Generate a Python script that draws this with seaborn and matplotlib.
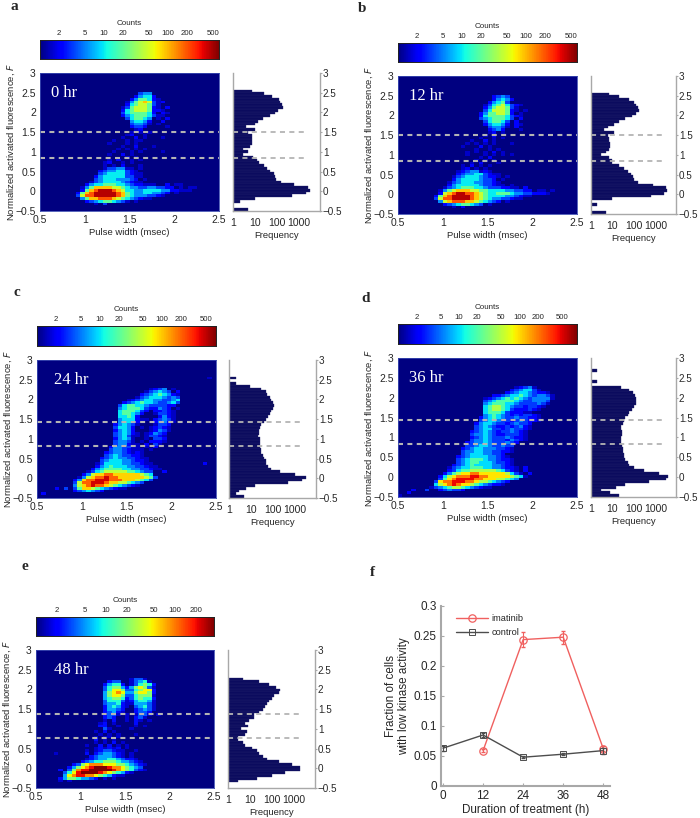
import numpy as np
import pandas as pd
import seaborn as sns
import matplotlib
matplotlib.use('Agg')
import matplotlib.pyplot as plt
from matplotlib.colors import LogNorm

sns.set_style('white')
plt.rcParams['font.family'] = ['Liberation Sans', 'DejaVu Sans']

W, H = 700, 818
N_COLS, N_ROWS = 40, 50
X_STEP, Y_STEP = 0.05, 0.07

# count read for each digit in the rows below ('.' = empty cell)
LEVELS = {'.': 1, '1': 1.5, '2': 2.2, '3': 3.4, '4': 5.5, '5': 10, '6': 20, '7': 45, '8': 90, '9': 200, 'a': 450}

# === Heat map cells, top row first, last string is row 0 (F = -0.5) ===
ROWS_A = [
    "......................344", ".....................24552", "....................2466521",
    "...................146787312", "...................25677631", "..................136777621.2",
    "..................2567776221", "..................35666652.21", "..................2456665311",
    "...................356654.1.2", "....................45542..2", "....................34431.1",
    "....................2332....1", ".....................12", "....................1.1.1",
    "...................12..1", "..................1..2.1...1", "................1..1.11",
    "...............1...1.1", "..................1..2...1", ".................1.1.1.1",
    "................1...1.1....1", "...............1..2.1", "...................1.1",
    "...............1.2..1.1", "..............12..1.1", "..............1.1.2...1",
    "..............1334411.1", ".............234455321", ".............3455553211",
    "............24555553311", "............3455544432.1", "...........134555543211",
    "..........2455666554322111..2.11", ".........146888877654433443322.1.11",
    ".........2689aaa987554455554422111", "........2689aaaaa986544554432.1",
    "........3799aaaaa98654443321", ".........4688999876543211", "..........2345665431.1",
    "............1.3", "", "",
]
ROWS_B = [
    ".....................2343", ".....................24542", "....................24563",
    "...................135675321", "...................24677631", "...................35777621.1",
    "..................24667762.1", "..................2566665321", "..................34566653.2",
    "...................356653.2", "...................245542.21", "....................34431.2",
    "....................2342...1", "....................12.1", "...................1.2",
    "..................1..1.1", "................1..2.1", "...............1.1.1.1...1",
    "..............1...2.1", ".................1..1.1", "...............1.1.1.2.1",
    "...............1...1.1.1.1", "..................1.2", ".................1.1.1",
    "................1.2...1", "..............1.2.1.1", "..............12.1.1",
    ".............12344121", ".............2344553211", "............13455543221.1",
    "............2455554332.1", "...........134555443321", "...........2455555433211.1",
    "..........13456665543332211.2", ".........146788877665555443322.11.1",
    ".........2789aa9987655666544332221", "........2689aaaa98765555443211",
    "........3799aaaa987654433211", ".........47899988765432.1", "..........234566543.1",
    "............1.2", "", "",
]
ROWS_C = [
    "......................................1", "", "", "",
    ".........................1234.1", "........................134543.2", ".......................234565421",
    "......................1345554343", "....................123455443345", "...................2345655433453",
    "..................3566554333322", "..................456665322432.1", "..................5666532.22321",
    "..................566542..13321", "..................55652....2421", "..................4555211.23431",
    "..................45532...24421", ".................245431...1332", ".................35542.1.12321",
    ".................24542...12431", ".................345421.12432", ".................345311.13321",
    ".................24541..1.332", ".................34431.1.2221", ".................344211.2.31",
    "................2443311.1.2", "................34432111.1", "...............234432121",
    "...............345433221", "..............23454433211", "..............34555443221",
    ".............1355554433211...........2", ".............24565554433211",
    "............2456666554433211", "...........135677777665433..2", "..........2478899888888765",
    ".........147899a99888888763", "........24899aaa9998887653", "........3799aaa988776543",
    "........4789a9987654321", "....2.3.368876543211", "........2345432", ".2", "",
]
ROWS_D = [
    "", "", "", "", "",
    "..........................12341", ".........................2345531", "........................2345543221",
    ".....................22345565434431", "...................1234565654344441", "...................345666654334443",
    "...................456665543333431", "...................56776543323321", "...................5677653222321",
    "...................56665322211", "...................4565432323321", "..................24565433433221",
    "..................34554332343221", ".................2455433234332", ".................3454322323421",
    ".................3455332343321", "................2345432334321", "................3445432233321",
    "................2345433343221", "................3445433324321", "...............234454333432",
    "...............33455433433", "..............234554443321", "..............344554433221",
    "..............3455544332", ".............234555544321", ".............3456665443221",
    ".............3456655543321", "............23456555544321", "...........1345566655443221.2",
    "...........2356677777765321.2", "..........246788998888887531.2", ".........2578999aa99888887651",
    ".........3689aaaa9988877654", "........3899aaa9987765432", "........5789a98876543221",
    ".......13456776543211", "...2..3..234332", "..2", "1",
]
ROWS_E = [
    ".....................1331", "................233..13451", "...............24552.135652",
    "...............356642467631", "...............357763356772", "...............467874467762",
    "...............467763356661", "...............456652356552", "...............355531245541",
    "...............344521144431", "...............245421.34531", "...............24432..23431",
    "...............23421..2332", "...............2331.1.1331.1", "...............232..1.231",
    "...............1.2..1.21.1", "..............12.1....2", "..............22..1...1.1",
    "...............31....1", ".............1.2.1", "..............1.1.1...1",
    ".............1.11.1", ".............2.1.1", ".............1.1.2.1",
    "...........1..2.2.1.1", ".............121212.1", "...........1.1233211..1",
    "....1......2.2344321.1", "............23444321.1", "...........123445543221",
    "..........23455666544321", "........23678887776654321", ".......246789aaa98876543",
    ".....2.36899aaaaa98765321", "......3579aaaa98765421", "......47899887654211",
    ".....246654432.1.1", ".....1.1", "", "",
]

# === Frequency histograms, row 0 upwards ===
FREQ_A = [5, 1, 1, 2, 10, 500, 2000, 3000, 2500, 600, 150, 90, 80, 70, 50, 35, 25, 15, 12, 8, 3, 5, 3, 6, 7, 7, 7, 7,
          5, 10, 4, 10, 14, 22, 50, 80, 110, 180, 170, 130, 120, 60, 25, 7]
FREQ_B = [5, 1, 1, 2, 1, 10, 600, 2500, 3500, 3000, 800, 150, 100, 90, 70, 50, 35, 20, 10, 10, 7, 3, 5, 7, 8, 8, 7, 7,
          6, 12, 4, 6, 12, 20, 40, 80, 130, 170, 150, 130, 100, 60, 20, 7]
FREQ_C = [5, 2, 3, 6, 15, 500, 2000, 3000, 1000, 200, 80, 60, 50, 50, 40, 35, 30, 30, 25, 25, 25, 25, 20, 22, 22, 25,
          30, 40, 50, 60, 70, 80, 100, 110, 100, 80, 70, 55, 50, 30, 9, 2, 1, 2]
FREQ_D = [20, 8, 3, 15, 40, 500, 3000, 4000, 1500, 300, 100, 60, 50, 40, 35, 35, 30, 30, 28, 25, 25, 25, 28, 28, 25, 25,
          30, 35, 40, 50, 60, 80, 100, 120, 130, 130, 110, 90, 60, 25, 1, 2, 1, 1, 1, 2]
FREQ_E = [1, 1, 3, 20, 100, 400, 1800, 1800, 800, 200, 60, 40, 25, 20, 12, 6, 5, 3, 3, 6, 7, 4, 8, 6, 9, 15, 15, 25,
          40, 50, 60, 70, 100, 120, 200, 220, 150, 70, 25, 5]

PULSE_TICKS = [0.5, 1, 1.5, 2, 2.5]
F_TICKS = [-0.5, 0, 0.5, 1, 1.5, 2, 2.5, 3]
FREQ_TICKS = [1, 10, 100, 1000]
COUNT_TICKS = [2, 5, 10, 20, 50, 100, 200, 500]
COUNT_TICKS_E = [2, 5, 10, 20, 50, 100, 200]

# === Panel f ===
HOURS = [0, 12, 24, 36, 48]
IMATINIB_HOURS = [12, 24, 36, 48]
IMATINIB = [0.059, 0.244, 0.248, 0.062]
IMATINIB_ERR = [0.002, 0.012, 0.011, 0.004]
CONTROL = [0.063, 0.085, 0.048, 0.053, 0.059]
CONTROL_ERR = [0.004, 0.003, 0.002, 0.002, 0.005]

GREY = '#a8a8a8'
DASH = '#b4b4b4'
NAVY = '#0b0b5e'


def add_axes(x0, x1, y0, y1):
    # pixel box, y measured from the top of the picture
    return fig.add_axes([x0 / W, 1 - y1 / H, (x1 - x0) / W, (y1 - y0) / H])


def rows_to_counts(rows):
    grid = np.ones((N_ROWS, N_COLS))
    for i, row in enumerate(rows):
        r = len(rows) - 1 - i
        for c, ch in enumerate(row[:N_COLS]):
            grid[r, c] = LEVELS[ch]
    return grid


def draw_panel(p):
    x0, x1, y0, y1 = p['heat']
    ax = add_axes(x0, x1, y0, y1)
    cax = add_axes(x0, x1, p['cbar'][0], p['cbar'][1])
    norm = LogNorm(1, p['vmax'])
    sns.heatmap(pd.DataFrame(rows_to_counts(p['rows'])), ax=ax, cmap='jet', norm=norm, cbar_ax=cax,
                cbar_kws=dict(orientation='horizontal', ticks=p['cticks']), xticklabels=False, yticklabels=False)
    ax.set_ylim(0, N_ROWS)
    ax.set_xlim(0, N_COLS)
    ax.set_xticks([(v - 0.5) / X_STEP for v in PULSE_TICKS], labels=[f'{v:g}' for v in PULSE_TICKS])
    ax.set_yticks([(v + 0.5) / Y_STEP for v in F_TICKS], labels=[f'{v:g}'.replace('-', '\u2212') for v in F_TICKS])
    ax.tick_params(labelsize=7.5, length=0, pad=3, labelrotation=0)
    ax.set_xlabel('Pulse width (msec)', fontsize=6.8, labelpad=2)
    ax.set_ylabel('Normalized activated fluorescence, $\\mathit{F}$', fontsize=6.8, labelpad=-1)
    for s in ax.spines.values():
        s.set_visible(True)
        s.set_color('#3b4bb0')
        s.set_linewidth(0.6)
    for v in p['dash']:
        ax.axhline((v + 0.5) / Y_STEP, color=DASH, lw=1.5, dashes=(2.4, 2.1))
    ax.text(p['hr_x'], (2.49 + 0.5) / Y_STEP, p['hr'], color='white', fontsize=12, va='center',
            family='Liberation Serif')

    # colour bar
    cax.xaxis.set_ticks_position('top')
    cax.xaxis.set_label_position('top')
    cax.minorticks_off()
    cax.set_xticks(p['cticks'], labels=[str(t) for t in p['cticks']])
    cax.tick_params(labelsize=5.6, length=0, pad=2.5)
    cax.set_xlabel('Counts', fontsize=5.8, labelpad=3.5)
    for s in cax.spines.values():
        s.set_visible(True)
        s.set_color('#222222')
        s.set_linewidth(0.6)

    # frequency histogram
    hx = add_axes(p['hist'][0], p['hist'][1], y0, y1)
    freq = pd.DataFrame({'y': [-0.5 + Y_STEP * (i + 0.5) for i in range(len(p['freq']))], 'n': p['freq']})
    sns.barplot(data=freq, x='n', y='y', orient='y', native_scale=True, color=NAVY,
                width=1.0, saturation=1, edgecolor='#26266e', linewidth=0.25, ax=hx)
    hx.set_xscale('log')
    hx.set_xlim(1, 9000)
    hx.set_ylim(-0.5, 3)
    hx.set_xticks(FREQ_TICKS, labels=[f'{t}' for t in FREQ_TICKS])
    hx.minorticks_off()
    hx.yaxis.tick_right()
    hx.set_yticks(F_TICKS, labels=[f'{v:g}'.replace('-', '\u2212') for v in F_TICKS])
    hx.tick_params(labelsize=7.5, pad=1, length=2, color=GREY, left=False, right=True, bottom=False)
    hx.tick_params(axis='x', pad=3)
    hx.tick_params(axis='y', labelsize=7.1, pad=0.5, length=1.5)
    hx.set_xlabel('Frequency', fontsize=6.8, labelpad=2)
    hx.set_ylabel('')
    hx.spines['top'].set_visible(False)
    for name in ['left', 'right', 'bottom']:
        hx.spines[name].set_visible(True)
        hx.spines[name].set_color(GREY)
        hx.spines[name].set_linewidth(1.0)
    for v in p['dash']:
        hx.axhline(v, xmax=0.85, color=DASH, lw=1.3, dashes=(2.8, 2.4))

    fig.text(p['letter'][0] / W, 1 - p['letter'][1] / H, p['name'], fontsize=11, fontweight='bold',
             family='Liberation Serif', ha='center', va='center')


fig = plt.figure(figsize=(W / 100, H / 100), dpi=100)

panels = [
    dict(name='a', hr='0 hr', rows=ROWS_A, freq=FREQ_A, vmax=620, cticks=COUNT_TICKS, dash=[1.5, 0.85],
         heat=(40, 219, 73, 211), cbar=(40, 59), hist=(233, 320), letter=(14, 6), hr_x=2.5),
    dict(name='b', hr='12 hr', rows=ROWS_B, freq=FREQ_B, vmax=620, cticks=COUNT_TICKS, dash=[1.5, 0.85],
         heat=(398, 577, 76, 214), cbar=(43, 62), hist=(591, 676), letter=(362, 8), hr_x=2.5),
    dict(name='c', hr='24 hr', rows=ROWS_C, freq=FREQ_C, vmax=720, cticks=COUNT_TICKS, dash=[1.43, 0.82],
         heat=(37, 216, 360, 498), cbar=(326, 346), hist=(229, 316), letter=(17, 293), hr_x=3.8),
    dict(name='d', hr='36 hr', rows=ROWS_D, freq=FREQ_D, vmax=870, cticks=COUNT_TICKS, dash=[1.45, 0.83],
         heat=(398, 577, 358, 497), cbar=(324, 344), hist=(591, 676), letter=(366, 298), hr_x=2.5),
    dict(name='e', hr='48 hr', rows=ROWS_E, freq=FREQ_E, vmax=363, cticks=COUNT_TICKS_E, dash=[1.37, 0.76],
         heat=(36, 214, 650, 788), cbar=(617, 636), hist=(228, 315), letter=(25, 567), hr_x=4),
]
for p in panels:
    draw_panel(p)

# === Panel f: fraction of cells with low kinase activity ===
ax = add_axes(441, 610, 606, 786)
red, dark = '#f0605f', '#4d4d4d'
sns.lineplot(x=IMATINIB_HOURS, y=IMATINIB, color=red, lw=1, marker='o', ms=5.3, mfc='none', mec=red, mew=0.9,
             label='imatinib', ax=ax)
sns.lineplot(x=HOURS, y=CONTROL, color=dark, lw=1, marker='s', ms=4, mfc='none', mec=dark, mew=0.7,
             label='control', ax=ax)
ax.errorbar(IMATINIB_HOURS, IMATINIB, yerr=IMATINIB_ERR, fmt='none', ecolor=red, elinewidth=0.8, capsize=1.2)
ax.errorbar(HOURS, CONTROL, yerr=CONTROL_ERR, fmt='none', ecolor=dark, elinewidth=0.8, capsize=1.2)
ax.set_xlim(-0.6, 50)
ax.set_ylim(0, 0.3)
ax.set_xticks(HOURS)
ax.set_yticks([0, 0.05, 0.1, 0.15, 0.2, 0.25, 0.3], labels=['0', '0.05', '0.1', '0.15', '0.2', '0.25', '0.3'])
ax.tick_params(labelsize=8.5, length=2, direction='in', color=GREY, pad=3, bottom=True, left=True)
ax.set_xlabel('Duration of treatment (h)', fontsize=8.4, labelpad=1)
ax.set_ylabel('Fraction of cells\nwith low kinase activity', fontsize=8.4, labelpad=3, linespacing=1.1)
ax.spines['top'].set_visible(False)
ax.spines['right'].set_visible(False)
for name in ['left', 'bottom']:
    ax.spines[name].set_visible(True)
    ax.spines[name].set_color(GREY)
    ax.spines[name].set_linewidth(1.5)
ax.legend(loc='upper left', bbox_to_anchor=(0.06, 0.98), frameon=False, fontsize=6.7, handlelength=3.5,
          labelspacing=0.55, handletextpad=0.3, borderpad=0)
fig.text(372 / W, 1 - 573 / H, 'f', fontsize=11, fontweight='bold', family='Liberation Serif', ha='center', va='center')

fig.savefig('out.png', dpi=100)
